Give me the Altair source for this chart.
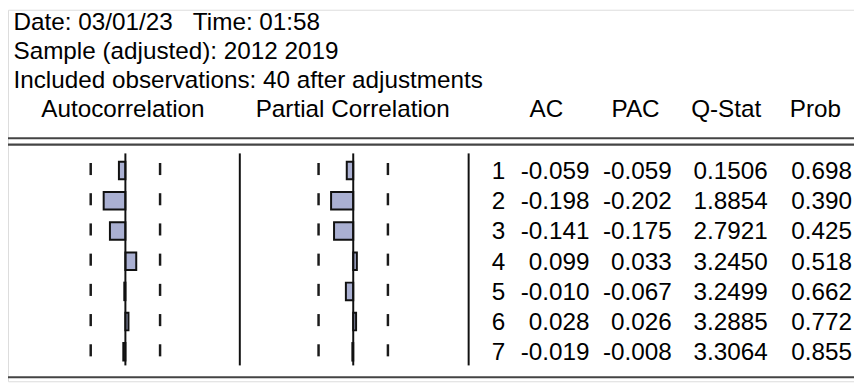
import altair as alt
import pandas as pd
import math

# ---------------- data ----------------
lags = [1, 2, 3, 4, 5, 6, 7]
ac = [-0.059, -0.198, -0.141, 0.099, -0.010, 0.028, -0.019]
pac = [-0.059, -0.202, -0.175, 0.033, -0.067, 0.026, -0.008]
qstat = [0.1506, 1.8854, 2.7921, 3.2450, 3.2499, 3.2885, 3.3064]
prob = [0.698, 0.390, 0.425, 0.518, 0.662, 0.772, 0.855]
n_obs = 40
header_lines = [
    "Date: 03/01/23\u00a0\u00a0\u00a0Time: 01:58",
    "Sample (adjusted): 2012 2019",
    "Included observations: 40 after adjustments",
]
panel_titles = ["Autocorrelation", "Partial Correlation"]
col_titles = ["AC", "PAC", "Q-Stat", "Prob"]

# ---------------- tables ----------------
bound = 2 / math.sqrt(n_obs)
df = pd.DataFrame({"lag": lags, "ac": ac, "pac": pac, "q": qstat, "p": prob})
df["lag_s"] = df["lag"].astype(str)
df["ac_s"] = [f"{v:.3f}" for v in ac]
df["pac_s"] = [f"{v:.3f}" for v in pac]
df["q_s"] = [f"{v:.4f}" for v in qstat]
df["p_s"] = [f"{v:.3f}" for v in prob]
df["ylo"] = df["lag"] - 0.29
df["yhi"] = df["lag"] + 0.29
df["dlo"] = df["lag"] - 0.25
df["dhi"] = df["lag"] + 0.15

W, H = 854, 375
FONT = "Liberation Sans"
FS = 24.5
ROW_PX = 30.5
Y0 = 162.3
yscale = alt.Scale(domain=[1, 7], range=[Y0, Y0 + 6 * ROW_PX], nice=False, zero=False)

HALF = 110.7
AC_C, PAC_C = 118.5, 348.5


def xs(center):
    return alt.Scale(domain=[-1, 1], range=[center - HALF, center + HALF], nice=False, zero=False)


base = alt.Chart(df)
layers = []

for col, center in (("ac", AC_C), ("pac", PAC_C)):
    sc = xs(center)
    # dashed bounds
    for b in (-bound, bound):
        layers.append(
            base.mark_rule(color="#1a1a1a", strokeWidth=2.5).encode(
                x=alt.X("b:Q", scale=sc, axis=None),
                y=alt.Y("dlo:Q", scale=yscale, axis=None),
                y2="dhi:Q",
            ).transform_calculate(b=str(b))
        )
    # bars
    layers.append(
        base.mark_rect(fill="#aab0d2", stroke="#111111", strokeWidth=2).encode(
            x=alt.X(f"{col}:Q", scale=sc, axis=None),
            x2=alt.datum(0),
            y=alt.Y("ylo:Q", scale=yscale, axis=None),
            y2="yhi:Q",
        )
    )
    # zero line
    layers.append(
        alt.Chart(pd.DataFrame({"z": [0], "a": [0.433], "b": [7.45]})).mark_rule(
            color="#111111", strokeWidth=2
        ).encode(
            x=alt.X("z:Q", scale=sc, axis=None),
            y=alt.Y("a:Q", scale=yscale, axis=None),
            y2="b:Q",
        )
    )

# separators
for xpx in (234, 465):
    layers.append(
        alt.Chart(pd.DataFrame({"a": [0.433], "b": [7.45]})).mark_rule(
            color="#111111", strokeWidth=2
        ).encode(
            x=alt.value(xpx),
            y=alt.Y("a:Q", scale=yscale, axis=None),
            y2="b:Q",
        )
    )

# horizontal rules
for ypx in (129.7, 136.2, 371):
    layers.append(
        alt.Chart(pd.DataFrame({"k": [0]})).mark_rule(color="#444444", strokeWidth=2.2).encode(
            x=alt.value(-4), x2=alt.value(W), y=alt.value(ypx)
        )
    )

# header lines
for i, line in enumerate(header_lines):
    layers.append(
        alt.Chart(pd.DataFrame({"t": [line]})).mark_text(
            font=FONT, fontSize=FS, align="left", baseline="alphabetic", color="#000000"
        ).encode(text="t:N", x=alt.value(5.5), y=alt.value(20.5 + 29.3 * i))
    )

# column titles
title_x = [116, 348, 543.5, 633.5, 725, 815]
for t, xpx in zip(panel_titles + col_titles, title_x):
    layers.append(
        alt.Chart(pd.DataFrame({"t": [t]})).mark_text(
            font=FONT, fontSize=FS, align="center", baseline="alphabetic", color="#000000"
        ).encode(text="t:N", x=alt.value(xpx), y=alt.value(108.5))
    )

# table numbers
for field, xpx in (("lag_s", 502), ("ac_s", 587), ("pac_s", 670), ("q_s", 767), ("p_s", 852)):
    layers.append(
        base.mark_text(
            font=FONT, fontSize=FS, align="right", baseline="alphabetic", dy=8.6, color="#000000"
        ).encode(
            text=f"{field}:N",
            x=alt.value(xpx),
            y=alt.Y("lag:Q", scale=yscale, axis=None),
        )
    )

chart = (
    alt.layer(*layers)
    .resolve_scale(x="independent")
    .properties(width=W, height=H, padding=0, autosize=alt.AutoSizeParams(type="none"))
    .configure_view(stroke=None)
    .configure(background="white")
)

chart.save("out.html", embed_options={"renderer": "svg", "actions": False})
